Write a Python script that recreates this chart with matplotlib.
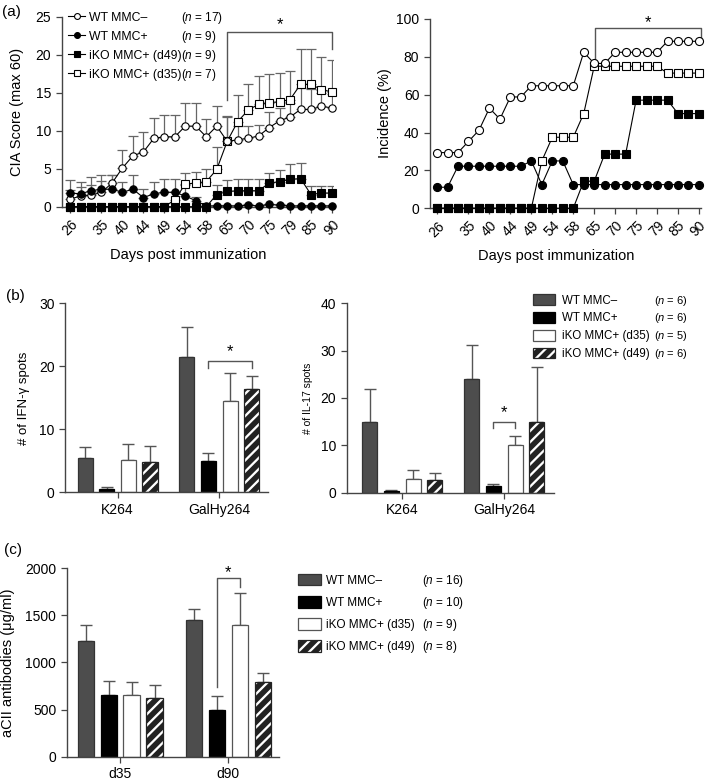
import matplotlib.pyplot as plt
import numpy as np

plt.rcParams['font.family'] = ['Liberation Sans', 'DejaVu Sans']
plt.rcParams['mathtext.fontset'] = 'custom'
plt.rcParams['mathtext.rm'] = 'Liberation Sans'
plt.rcParams['mathtext.it'] = 'Liberation Sans:italic'
plt.rcParams['hatch.linewidth'] = 4.0
plt.rcParams['hatch.color'] = 'black'
plt.rcParams['axes.linewidth'] = 1.0
plt.rcParams['axes.edgecolor'] = '#444444'
plt.rcParams['xtick.color'] = '#444444'
plt.rcParams['ytick.color'] = '#444444'
plt.rcParams['xtick.labelcolor'] = 'black'
plt.rcParams['ytick.labelcolor'] = 'black'
plt.rcParams['font.size'] = 10

# ---- (a) CIA score and incidence, 26 scoring days ----
tick_idx = [0, 3, 5, 7, 9, 11, 13, 15, 17, 19, 21, 23, 25]
tick_days = [26, 35, 40, 44, 49, 54, 58, 65, 70, 75, 79, 85, 90]

names_a = ['WT MMC–', 'WT MMC+', 'iKO MMC+ (d49)', 'iKO MMC+ (d35)']
n_a = [17, 9, 9, 7]

score_wt_neg = [1.0, 1.4, 1.5, 1.9, 3.1, 5.1, 6.7, 7.2, 9.0, 9.2, 9.2, 10.6, 10.6,
                9.2, 10.6, 8.6, 8.8, 9.0, 9.3, 10.4, 11.3, 11.8, 12.8, 12.8, 13.2, 13.0]
sem_wt_neg = [1.2, 1.2, 1.3, 1.5, 1.1, 2.3, 2.6, 2.6, 2.7, 2.8, 2.8, 3.1, 3.0,
              2.4, 2.6, 3.2, 1.8, 1.6, 1.5, 2.1, 1.7, 1.8, 2.8, 2.7, 1.8, 1.8]
score_wt_pos = [1.8, 1.7, 2.1, 2.3, 2.3, 1.9, 2.3, 1.2, 1.7, 1.9, 1.9, 1.4, 0.8,
                0.1, 0.1, 0.1, 0.1, 0.2, 0.1, 0.3, 0.2, 0.1, 0.1, 0.1, 0.1, 0.1]
sem_wt_pos = [1.7, 1.6, 1.8, 1.9, 1.9, 1.4, 1.9, 1.1, 1.6, 1.8, 1.8, 1.5, 0.5,
              0.1, 0.1, 0.1, 0.1, 0.1, 0.1, 0.1, 0.1, 0.1, 0.1, 0.1, 0.1, 0.1]
score_ko_d49 = [0, 0, 0, 0, 0, 0, 0, 0, 0, 0, 0, 0, 0,
                0, 1.6, 2.0, 2.1, 2.1, 2.1, 3.1, 3.3, 3.6, 3.7, 1.6, 1.8, 1.8]
sem_ko_d49 = [0, 0, 0, 0, 0, 0, 0, 0, 0, 0, 0, 0, 0,
              0, 1.3, 1.5, 1.6, 1.6, 1.6, 1.3, 1.5, 2.0, 2.1, 1.1, 0.9, 0.9]
score_ko_d35 = [0, 0, 0, 0, 0, 0, 0, 0, 0, 0, 0.9, 3.0, 3.1,
                3.3, 4.9, 8.6, 11.2, 12.7, 13.5, 13.7, 13.8, 14.1, 16.1, 16.1, 15.4, 15.1]
sem_ko_d35 = [0, 0, 0, 0, 0, 0, 0, 0, 0, 0, 1.0, 1.4, 1.5,
              1.6, 3.0, 3.3, 3.5, 3.4, 3.7, 3.8, 3.8, 3.8, 4.6, 4.6, 4.3, 4.2]

inc_wt_neg = [29.4, 29.4, 29.4, 35.3, 41.2, 52.9, 47.1, 58.8, 58.8, 64.7, 64.7, 64.7, 64.7,
              64.7, 82.4, 76.5, 76.5, 82.4, 82.4, 82.4, 82.4, 82.4, 88.2, 88.2, 88.2, 88.2]
inc_wt_pos = [11.1, 11.1, 22.2, 22.2, 22.2, 22.2, 22.2, 22.2, 22.2, 25.0, 12.5, 25.0, 25.0,
              12.5, 12.5, 12.5, 12.5, 12.5, 12.5, 12.5, 12.5, 12.5, 12.5, 12.5, 12.5, 12.5]
inc_ko_d49 = [0, 0, 0, 0, 0, 0, 0, 0, 0, 0, 0, 0, 0,
              0, 14.3, 14.3, 28.6, 28.6, 28.6, 57.1, 57.1, 57.1, 57.1, 50.0, 50.0, 50.0]
inc_ko_d35 = [0, 0, 0, 0, 0, 0, 0, 0, 0, 0, 25.0, 37.5, 37.5,
              37.5, 50.0, 75.0, 75.0, 75.0, 75.0, 75.0, 75.0, 75.0, 71.4, 71.4, 71.4, 71.4]

# ---- (b) ELISpot, (c) anti-CII antibodies ----
bar_names = ['WT MMC–', 'WT MMC+', 'iKO MMC+ (d35)', 'iKO MMC+ (d49)']
antigens = ['K264', 'GalHy264']
n_b = [6, 6, 5, 6]
ifn_mean = np.array([[5.5, 21.5], [0.6, 4.9], [5.1, 14.5], [4.8, 16.4]])
ifn_sem = np.array([[1.7, 4.7], [0.2, 1.3], [2.5, 4.4], [2.5, 2.1]])
il17_mean = np.array([[15.0, 23.9], [0.35, 1.4], [2.9, 10.1], [2.7, 14.9]])
il17_sem = np.array([[6.9, 7.2], [0.25, 0.4], [1.8, 1.9], [1.5, 11.7]])

days_c = ['d35', 'd90']
n_c = [16, 10, 9, 8]
acii_mean = np.array([[1230, 1450], [650, 500], [660, 1400], [620, 790]])
acii_sem = np.array([[170, 115], [150, 145], [135, 335], [145, 95]])

fig = plt.figure(figsize=(7.09, 7.80), dpi=100)

line_styles = [('o', 'white', 4), ('o', 'black', 6), ('s', 'black', 5), ('s', 'white', 3)]
gray = '#555555'


def line_panel(ax, series, sems, ms):
    x = np.arange(len(series[0]))
    for k, y in enumerate(series):
        mk, fc, z = line_styles[k]
        if sems is not None:
            err = np.array(sems[k])
            ax.errorbar(x, y, yerr=[np.zeros_like(err), err], fmt='none', ecolor='#666666',
                        elinewidth=0.9, capsize=3.5, capthick=0.9, zorder=1)
        ax.plot(x, y, marker=mk, mfc=fc, mec='black', mew=0.8, ms=ms, color='black',
                lw=0.8, zorder=z, label=names_a[k], clip_on=False)
    ax.set_xticks(tick_idx)
    ax.set_xticklabels(tick_days, rotation=45, ha='right', rotation_mode='anchor')
    ax.tick_params(length=4, width=0.9, labelsize=10)
    for s in ['top', 'right']:
        ax.spines[s].set_visible(False)
    ax.set_xlabel('Days post immunization', fontsize=10.5)


ax1 = fig.add_axes([0.087, 0.735, 0.3827, 0.2436])
line_panel(ax1, [score_wt_neg, score_wt_pos, score_ko_d49, score_ko_d35],
           [sem_wt_neg, sem_wt_pos, sem_ko_d49, sem_ko_d35], 5.3)
ax1.set_xlim(-0.8, 25.1)
ax1.set_ylim(0, 25)
ax1.set_yticks([0, 5, 10, 15, 20, 25])
ax1.set_ylabel('CIA Score (max 60)', fontsize=10.5)
ax1.yaxis.set_label_coords(-0.139, 0.5)
ax1.xaxis.set_label_coords(0.4667, -0.215)
ax1.plot([15, 15, 25, 25], [14.0, 23.0, 23.0, 20.8], color=gray, lw=1, clip_on=False)
ax1.text(20, 24.0, '*', ha='center', va='center', fontsize=12)

ax2 = fig.add_axes([0.6061, 0.733, 0.3827, 0.2427])
line_panel(ax2, [inc_wt_neg, inc_wt_pos, inc_ko_d49, inc_ko_d35], None, 5.8)
ax2.set_xlim(-0.7, 25.2)
ax2.set_ylim(0, 100)
ax2.set_yticks([0, 20, 40, 60, 80, 100])
ax2.set_ylabel('Incidence (%)', fontsize=10.5)
ax2.yaxis.set_label_coords(-0.139, 0.5)
ax2.xaxis.set_label_coords(0.4655, -0.215)
ax2.plot([15.1, 15.1, 25.2, 25.2], [78.3, 95.1, 95.1, 89.3], color=gray, lw=1, clip_on=False)
ax2.text(20.1, 98.3, '*', ha='center', va='center', fontsize=12)

leg_a = ax1.legend(loc='upper left', bbox_to_anchor=(0.0963, 0.9850),
                   bbox_transform=fig.transFigure, frameon=False, fontsize=8.8,
                   borderpad=0, borderaxespad=0, handlelength=1.4, handletextpad=0.3,
                   labelspacing=0.57, markerscale=0.8)

bar_face = ['#4d4d4d', 'black', 'white', 'white']
bar_edge = ['#333333', 'black', '#555555', '#222222']
bar_hatch = [None, None, None, '///']
offsets = [-1.5, -0.5, 0.5, 1.5]
group_pos = np.array([0.0, 4.7])


def bar_panel(ax, means, sems, cats):
    for j in range(len(bar_names)):
        xs = group_pos + offsets[j]
        ax.errorbar(xs, means[j], yerr=[np.zeros(len(xs)), sems[j]], fmt='none',
                    ecolor=gray, elinewidth=1, capsize=4.5, capthick=1, zorder=1)
        ax.bar(xs, means[j], 0.7, color=bar_face[j], edgecolor=bar_edge[j],
               hatch=bar_hatch[j], linewidth=0.9, zorder=2, label=bar_names[j])
    ax.set_xticks(group_pos + 0.0)
    ax.set_xticklabels(cats)
    ax.tick_params(length=4, width=0.9, labelsize=10)
    for s in ['top', 'right']:
        ax.spines[s].set_visible(False)


ax3 = fig.add_axes([0.0917, 0.3688, 0.2863, 0.2423])
bar_panel(ax3, ifn_mean, ifn_sem, antigens)
ax3.set_xlim(-2.43, 6.95)
ax3.set_ylim(0, 30)
ax3.set_yticks([0, 10, 20, 30])
ax3.set_ylabel('# of IFN-γ spots', fontsize=9.5)
ax3.yaxis.set_label_coords(-0.172, 0.5)
ax3.plot([4.2, 4.2, 6.2, 6.2], [19.8, 20.8, 20.8, 19.8], color=gray, lw=1)
ax3.text(5.2, 22.3, '*', ha='center', va='center', fontsize=12)

ax4 = fig.add_axes([0.489, 0.3685, 0.2924, 0.2427])
bar_panel(ax4, il17_mean, il17_sem, antigens)
ax4.set_xlim(-2.56, 6.99)
ax4.set_ylim(0, 40)
ax4.set_yticks([0, 10, 20, 30, 40])
ax4.set_ylabel('# of IL-17 spots', fontsize=7.5)
ax4.yaxis.set_label_coords(-0.163, 0.5)
ax4.plot([4.2, 4.2, 5.2, 5.2], [13.6, 15.0, 15.0, 13.6], color=gray, lw=1)
ax4.text(4.7, 16.8, '*', ha='center', va='center', fontsize=12)

leg_b = ax4.legend(loc='upper left', bbox_to_anchor=(0.7522, 0.6225),
                   bbox_transform=fig.transFigure, frameon=False, fontsize=8.3,
                   borderpad=0, borderaxespad=0, handlelength=1.9, handleheight=1.0,
                   handletextpad=0.6, labelspacing=0.5)

ax5 = fig.add_axes([0.0941, 0.0299, 0.2999, 0.2415])
bar_panel(ax5, acii_mean, acii_sem, days_c)
ax5.set_xlim(-2.32, 6.93)
ax5.set_ylim(0, 2000)
ax5.set_yticks([0, 500, 1000, 1500, 2000])
ax5.set_ylabel('aCII antibodies (μg/ml)', fontsize=10.5)
ax5.yaxis.set_label_coords(-0.241, 0.5)
ax5.plot([4.2, 4.2, 5.2, 5.2], [745, 1894, 1894, 1800], color=gray, lw=1)
ax5.text(4.7, 1950, '*', ha='center', va='center', fontsize=12)

leg_c = ax5.legend(loc='upper left', bbox_to_anchor=(0.4199, 0.2640),
                   bbox_transform=fig.transFigure, frameon=False, fontsize=8.5,
                   borderpad=0, borderaxespad=0, handlelength=1.95, handleheight=1.1,
                   handletextpad=0.48, labelspacing=0.8)

fig.text(0.003, 0.985, '(a)', fontsize=11, va='center')
fig.text(0.008, 0.6205, '(b)', fontsize=11, va='center')
fig.text(0.006, 0.2955, '(c)', fontsize=11, va='center')


def n_column(leg, ns, x, fs):
    fig.canvas.draw()
    inv = fig.transFigure.inverted()
    for t, n in zip(leg.get_texts(), ns):
        bb = t.get_window_extent()
        y = inv.transform((0, (bb.y0 + bb.y1) / 2))[1]
        fig.text(x, y, '($\\mathit{n}$ = %d)' % n, fontsize=fs, va='center', ha='left')


n_column(leg_a, n_a, 0.2553, 8.5)
n_column(leg_b, n_b, 0.9229, 8)
n_column(leg_c, n_c, 0.5948, 8.5)

fig.savefig('out.png', dpi=100)
